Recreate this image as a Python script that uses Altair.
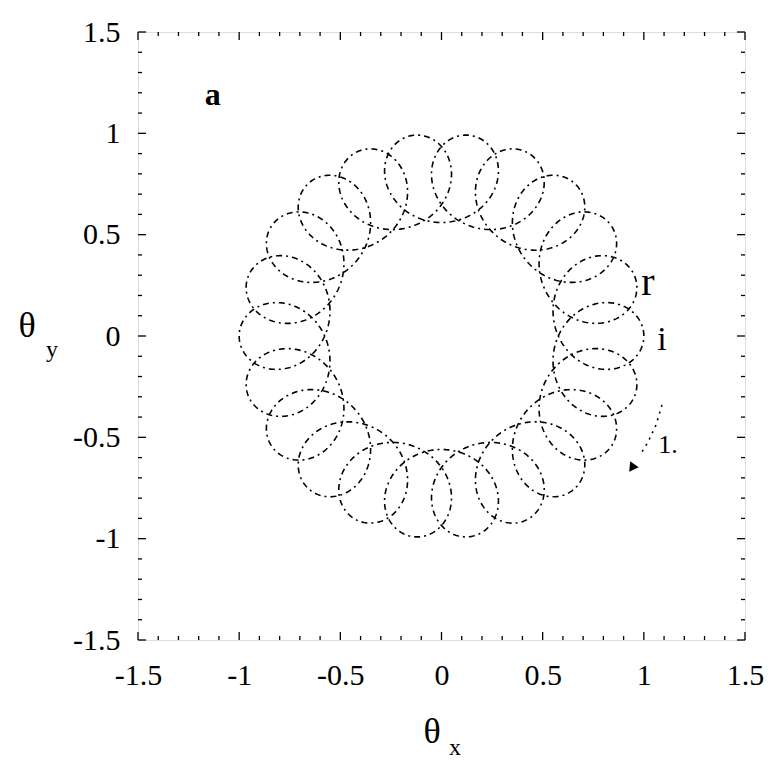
import numpy as np
import pandas as pd
import altair as alt

# Axis tick values
AXIS_TICKS = [-1.5, -1.0, -0.5, 0.0, 0.5, 1.0, 1.5]
MINOR_TICKS = [-1.4, -1.3, -1.2, -1.1, -0.9, -0.8, -0.7, -0.6, -0.4, -0.3, -0.2, -0.1,
               0.1, 0.2, 0.3, 0.4, 0.6, 0.7, 0.8, 0.9, 1.1, 1.2, 1.3, 1.4]

# Nutating trajectory: guiding-centre orbit plus fast loop motion
ORBIT_RADIUS = 0.78   # radius of the guiding-centre circle
LOOP_RADIUS = 0.22    # radius of each small loop
LOOP_COUNT = 22       # loops per revolution
START_PHASE = 0.0

# Panel annotations (data coordinates)
NOTE_TEXT = ["a", "r", "i", "1."]
NOTE_X = [-1.13, 1.02, 1.09, 1.12]
NOTE_Y = [1.19, 0.26, -0.02, -0.54]
NOTE_WEIGHT = ["bold", "normal", "normal", "normal"]
NOTE_SIZE = [32, 40, 34, 26]

# Direction-of-motion arrow (dotted stem and head)
ARROW_X = [1.090, 1.060, 1.021, 0.981]
ARROW_Y = [-0.340, -0.439, -0.523, -0.587]
ARROW_HEAD = (0.945, -0.645)

W, H = 607, 608
FONT = "Liberation Serif"

# guiding centre turns clockwise, the loop motion turns the other way
t = np.linspace(0.0, 2 * np.pi, 5000)
k = LOOP_COUNT - 1
px = ORBIT_RADIUS * np.cos(-t) + LOOP_RADIUS * np.cos(k * t + START_PHASE)
py = ORBIT_RADIUS * np.sin(-t) + LOOP_RADIUS * np.sin(k * t + START_PHASE)
curve = pd.DataFrame({"x": px, "y": py, "k": np.arange(len(t))})

xs = alt.Scale(domain=[-1.5, 1.5], nice=False, zero=False)
ys = alt.Scale(domain=[-1.5, 1.5], nice=False, zero=False)

label_expr = "replace(format(datum.value, '~g'), '\u2212', '-')"
x_axis = alt.Axis(values=AXIS_TICKS, title=None, grid=False, ticks=False, domain=False,
                  labelFont=FONT, labelFontSize=30, labelColor="black", labelPadding=20,
                  labelFlush=False, labelOverlap=False, labelExpr=label_expr)
y_axis = alt.Axis(values=AXIS_TICKS, title=None, grid=False, ticks=False, domain=False,
                  labelFont=FONT, labelFontSize=30, labelColor="black", labelPadding=18,
                  labelFlush=False, labelOverlap=False, labelExpr=label_expr,
                  labelBaseline="middle")

path = alt.Chart(curve).mark_line(
    color="black", strokeWidth=1.6, strokeDash=[6, 4, 2, 4]
).encode(
    x=alt.X("x:Q", scale=xs, axis=x_axis),
    y=alt.Y("y:Q", scale=ys, axis=y_axis),
    order="k:Q",
)

major = pd.DataFrame({"v": AXIS_TICKS})
minor = pd.DataFrame({"v": MINOR_TICKS})


def tick_layers(df, length):
    rule = dict(color="black", strokeWidth=1.3)
    return [
        alt.Chart(df).mark_rule(**rule).encode(
            x=alt.X("v:Q", scale=xs), y=alt.value(H), y2=alt.value(H - length)),
        alt.Chart(df).mark_rule(**rule).encode(
            x=alt.X("v:Q", scale=xs), y=alt.value(0), y2=alt.value(length)),
        alt.Chart(df).mark_rule(**rule).encode(
            y=alt.Y("v:Q", scale=ys), x=alt.value(0), x2=alt.value(length)),
        alt.Chart(df).mark_rule(**rule).encode(
            y=alt.Y("v:Q", scale=ys), x=alt.value(W), x2=alt.value(W - length)),
    ]


ticks = tick_layers(major, 8) + tick_layers(minor, 4)

notes_df = pd.DataFrame({"t": NOTE_TEXT, "x": NOTE_X, "y": NOTE_Y,
                         "w": NOTE_WEIGHT, "s": NOTE_SIZE})
notes = []
for _, row in notes_df.iterrows():
    notes.append(alt.Chart(pd.DataFrame([row])).mark_text(
        font=FONT, fontSize=int(row["s"]), fontWeight=row["w"], color="black",
        baseline="middle", align="center"
    ).encode(x=alt.X("x:Q", scale=xs), y=alt.Y("y:Q", scale=ys), text="t:N"))

arrow_df = pd.DataFrame({"x": ARROW_X, "y": ARROW_Y, "k": range(len(ARROW_X))})
arrow_stem = alt.Chart(arrow_df).mark_line(
    color="black", strokeWidth=1.6, strokeDash=[2, 5]
).encode(x=alt.X("x:Q", scale=xs), y=alt.Y("y:Q", scale=ys), order="k:Q")
arrow_head = alt.Chart(pd.DataFrame({"x": [ARROW_HEAD[0]], "y": [ARROW_HEAD[1]]})).mark_point(
    shape="triangle", filled=True, color="black", size=110, angle=215, opacity=1
).encode(x=alt.X("x:Q", scale=xs), y=alt.Y("y:Q", scale=ys))

# Axis titles with subscripts
titles = pd.DataFrame({
    "t": ["\u03b8", "y", "\u03b8", "x"],
    "px": [-111, -86, 294, 317],
    "py": [294, 318, 700, 716],
    "s": [36, 24, 36, 24],
})
title_layers = []
for _, row in titles.iterrows():
    title_layers.append(alt.Chart(pd.DataFrame([row])).mark_text(
        font=FONT, fontSize=int(row["s"]), color="black", baseline="middle", align="center"
    ).encode(x=alt.value(float(row["px"])), y=alt.value(float(row["py"])), text="t:N"))

chart = alt.layer(path, *ticks, *notes, arrow_stem, arrow_head, *title_layers).properties(
    width=W, height=H,
    autosize=alt.AutoSizeParams(type="none"),
    padding={"left": 138, "top": 32, "right": 33, "bottom": 120},
).configure_view(stroke="black", strokeWidth=2).configure(background="white")

chart.save("out.html", embed_options={"renderer": "svg", "actions": False})
